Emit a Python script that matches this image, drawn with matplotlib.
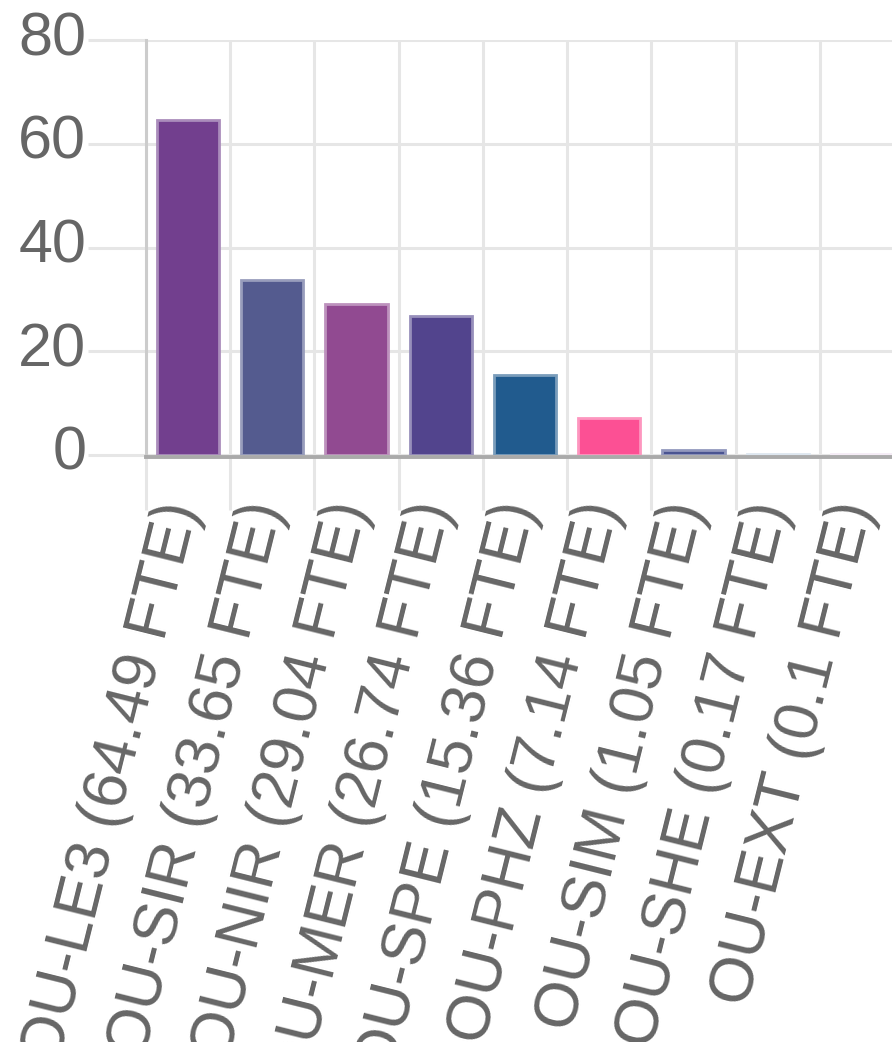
import matplotlib.pyplot as plt
import matplotlib.transforms as mtransforms
import numpy as np

plt.rcParams['font.family'] = ['Liberation Sans', 'DejaVu Sans']

units = ["OU-LE3", "OU-SIR", "OU-NIR", "OU-MER", "OU-SPE", "OU-PHZ", "OU-SIM", "OU-SHE", "OU-EXT"]
fte = [64.49, 33.65, 29.04, 26.74, 15.36, 7.14, 1.05, 0.17, 0.1]
bar_colors = ["#723f8e", "#545b8f", "#914a91", "#52448d", "#215b8e", "#fc5094", "#4a5491", "#c6d5e4", "#efdff0"]
y_ticks = [0, 20, 40, 60, 80]

tick_labels = [f"{u} ({v} FTE)" for u, v in zip(units, fte)]


def lighter(c, amount=0.4):
    rgb = np.array(plt.matplotlib.colors.to_rgb(c))
    return tuple(rgb + (1 - rgb) * amount)


fig = plt.figure(figsize=(8.92, 10.42), dpi=100)
ax = fig.add_axes([146 / 892, 1 - 455 / 1042, (904 - 146) / 892, 415 / 1042])

# spines first: set_position resets the tick settings
for s in ['top', 'right']:
    ax.spines[s].set_visible(False)
ax.spines['left'].set_color("#cccccc")
ax.spines['left'].set_linewidth(2.2)
ax.spines['bottom'].set_color("#aaaaaa")
ax.spines['bottom'].set_linewidth(2.8)
ax.spines['bottom'].set_position(('outward', 1.5))

x = np.arange(len(units))
ax.bar(x, fte, width=0.74, color=bar_colors,
       edgecolor=[lighter(c) for c in bar_colors], linewidth=2.0, zorder=2)

ax.set_xlim(-0.5, len(units) - 0.5)
ax.set_ylim(0, 80)

grid_c = "#e6e6e6"
ax.set_xticks(x)
ax.set_xticks(np.arange(len(units) + 1) - 0.5, minor=True)
ax.set_xticklabels(tick_labels)
ax.set_yticks(y_ticks)
ax.grid(which='minor', axis='x', color=grid_c, linewidth=2.2, zorder=0)
ax.grid(which='major', axis='y', color=grid_c, linewidth=2.2, zorder=0)
ax.set_axisbelow(True)

ax.tick_params(axis='x', which='major', length=0, pad=33, labelsize=45, labelcolor="#666666")
ax.tick_params(axis='x', which='minor', length=38, width=2.2, color=grid_c)
ax.tick_params(axis='y', which='major', length=42, width=2.2, color=grid_c, pad=1,
               labelsize=44, labelcolor="#666666")

ax.yaxis.get_major_ticks()[0].tick1line.set_color("#aaaaaa")
ax.xaxis.get_minor_ticks()[0].tick1line.set_color("#cccccc")

shift = mtransforms.ScaledTranslation(-0.06, 0, fig.dpi_scale_trans)
for lbl in ax.get_xticklabels():
    lbl.set_rotation(76)
    lbl.set_ha('right')
    lbl.set_va('center')
    lbl.set_rotation_mode('anchor')
    lbl.set_transform(lbl.get_transform() + shift)

up = mtransforms.ScaledTranslation(0, 0.07, fig.dpi_scale_trans)
for lbl in ax.get_yticklabels():
    lbl.set_transform(lbl.get_transform() + up)

fig.savefig("out.png", dpi=100)
